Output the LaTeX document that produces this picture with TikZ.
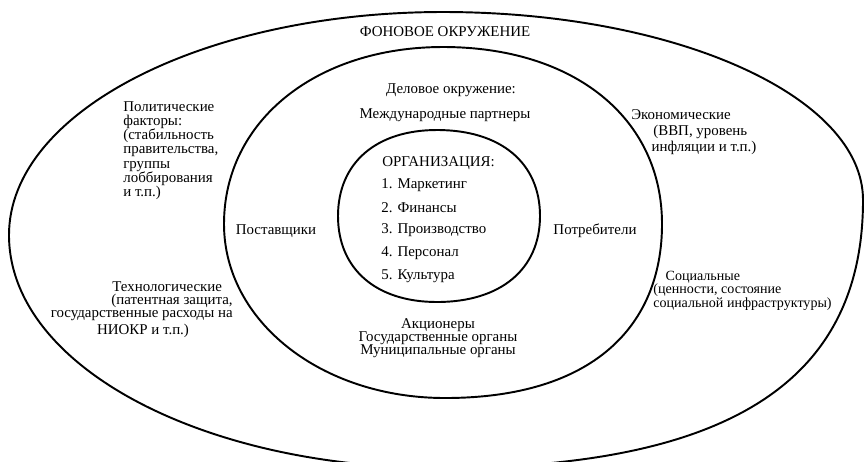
\documentclass[tikz,border=0pt]{standalone}
\usepackage{fontspec}
\setmainfont{Liberation Serif}
\usetikzlibrary{positioning}
\lineskiplimit=-\maxdimen

\begin{document}
\begin{tikzpicture}[x=0.02cm,y=-0.02cm,
  lbl/.style={font=\fontsize{8.5}{#1}\selectfont, inner sep=0pt},
  lbl/.default=10,
  ring/.style={line width=1.1pt}]
  \useasboundingbox (0,0) rectangle (864,461);
  % the three environments (hand-drawn ovals, not quite ellipses)
  \draw[ring] (9,235) .. controls (9,112) and (203,12) .. (443,12)
    .. controls (675,12) and (863,96) .. (863,200)
    .. controls (863,382) and (728,468) .. (440,468)
    .. controls (202,468) and (9,366) .. cycle;
  \draw[ring] (224,224) .. controls (224,121) and (316,47) .. (443,47)
    .. controls (574,47) and (662,118) .. (662,224)
    .. controls (662,326) and (593,398) .. (445,398)
    .. controls (321,398) and (224,321) .. cycle;
  \draw[ring] (338,216) .. controls (338,163) and (376,130) .. (437,130)
    .. controls (501,130) and (540,163) .. (540,216)
    .. controls (540,269) and (501,302) .. (437,302)
    .. controls (376,302) and (338,269) .. cycle;
  % outer ring
  \node[lbl] (title) at (445,32) {ФОНОВОЕ ОКРУЖЕНИЕ};
  \node[lbl=8.1, align=left, anchor=north west] (politics) at (123,101)
    {Политические\\факторы:\\(стабильность\\правительства,\\группы\\лоббирования\\и т.п.)};
  \node[lbl=9.1, align=left, anchor=north west] (economics) at (631,109)
    {Экономические\\\hspace*{12.5pt}(ВВП, уровень\\\hspace*{11.5pt}инфляции и т.п.)};
  \node[lbl=7.5, align=right, anchor=north east] (techno) at (233,281)
    {Технологические\hspace*{6pt}\\(патентная защита,\\государственные расходы на};
  \node[lbl] (niokr) at (143,331) {НИОКР и т.п.)};
  \node[lbl=7.5, align=left, anchor=north west, font=\fontsize{8}{7.5}\selectfont] (social) at (653,271)
    {\hspace*{7pt}Социальные\\(ценности, состояние\\социальной инфраструктуры)};
  % middle ring
  \node[lbl] (business) at (451,90) {Деловое окружение:};
  \node[lbl] (partners) at (445,115) {Международные партнеры};
  \node[lbl] (suppliers) at (276,231) {Поставщики};
  \node[lbl] (consumers) at (595,231) {Потребители};
  \node[lbl=7.5, align=center, anchor=north] (holders) at (438,318)
    {Акционеры\\Государственные органы\\Муниципальные органы};
  % inner ring
  \node[lbl, anchor=west] (org) at (382,163) {ОРГАНИЗАЦИЯ:};
  \foreach \i/\t in {1/Маркетинг,2/Финансы,3/Производство,4/Персонал,5/Культура}
    \node[lbl, anchor=west] (item\i) at (381,162.3+22.75*\i) {\i. \t};
\end{tikzpicture}
\end{document}
